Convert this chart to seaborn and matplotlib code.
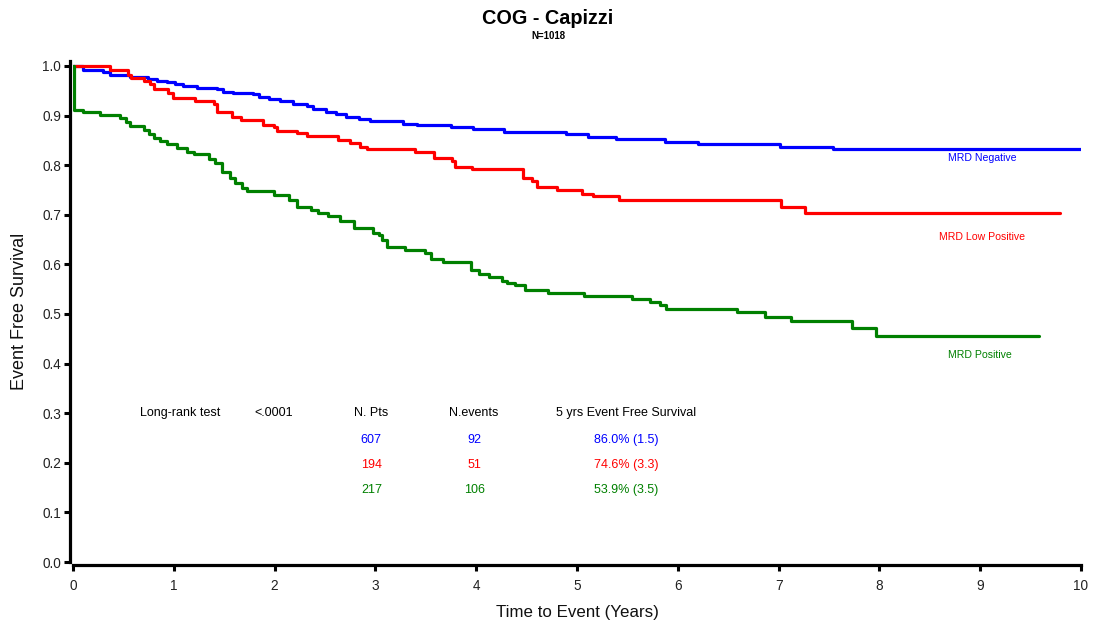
import numpy as np
import pandas as pd
import matplotlib
matplotlib.use("Agg")
import matplotlib.pyplot as plt
import seaborn as sns

# ---------------- data ----------------
groups = ["MRD Negative", "MRD Low Positive", "MRD Positive"]
colors = ["#0000ff", "#ff0000", "#008000"]

neg_time = [0.00, 0.10, 0.30, 0.37, 0.57, 0.74, 0.83, 0.93, 1.01, 1.09, 1.23, 1.43,
            1.49, 1.59, 1.79, 1.85, 1.94, 2.05, 2.18, 2.32, 2.38, 2.51, 2.61, 2.71,
            2.84, 2.95, 3.27, 3.41, 3.75, 3.97, 4.28, 4.89, 5.11, 5.39, 5.87, 6.20,
            7.01, 7.54, 10.00]
neg_surv = [1.000, 0.991, 0.987, 0.981, 0.977, 0.974, 0.970, 0.967, 0.963, 0.959, 0.956, 0.953,
            0.948, 0.945, 0.943, 0.938, 0.934, 0.929, 0.924, 0.919, 0.913, 0.908, 0.903, 0.898,
            0.893, 0.890, 0.884, 0.880, 0.876, 0.872, 0.867, 0.862, 0.857, 0.852, 0.847, 0.842,
            0.837, 0.832, 0.832]

low_time = [0.00, 0.37, 0.55, 0.58, 0.70, 0.76, 0.80, 0.94, 0.99, 1.21, 1.40, 1.43,
            1.58, 1.67, 1.88, 1.99, 2.02, 2.22, 2.32, 2.63, 2.75, 2.85, 2.92, 3.39,
            3.58, 3.76, 3.79, 3.96, 4.46, 4.55, 4.60, 4.80, 5.05, 5.16, 5.42, 7.02,
            7.26, 9.79]
low_surv = [1.000, 0.992, 0.982, 0.975, 0.970, 0.963, 0.953, 0.945, 0.935, 0.929, 0.923, 0.907,
            0.897, 0.891, 0.881, 0.876, 0.869, 0.864, 0.859, 0.851, 0.844, 0.837, 0.832, 0.827,
            0.814, 0.809, 0.797, 0.792, 0.774, 0.769, 0.755, 0.749, 0.742, 0.737, 0.730, 0.716,
            0.703, 0.703]

pos_time = [0.00, 0.005, 0.10, 0.27, 0.47, 0.53, 0.57, 0.70, 0.75, 0.80, 0.86, 0.93,
            1.03, 1.13, 1.20, 1.35, 1.41, 1.48, 1.56, 1.61, 1.68, 1.73, 1.99, 2.14,
            2.22, 2.36, 2.43, 2.53, 2.65, 2.79, 2.98, 3.04, 3.07, 3.12, 3.29, 3.49,
            3.55, 3.67, 3.95, 4.03, 4.13, 4.26, 4.31, 4.38, 4.48, 4.71, 5.07, 5.55,
            5.72, 5.82, 5.88, 6.59, 6.87, 7.12, 7.73, 7.97, 9.58]
pos_surv = [1.000, 0.911, 0.908, 0.901, 0.896, 0.888, 0.879, 0.871, 0.863, 0.854, 0.849, 0.842,
            0.834, 0.827, 0.822, 0.813, 0.804, 0.787, 0.774, 0.764, 0.753, 0.747, 0.740, 0.730,
            0.716, 0.710, 0.704, 0.698, 0.688, 0.674, 0.664, 0.659, 0.649, 0.636, 0.629, 0.622,
            0.610, 0.605, 0.589, 0.581, 0.574, 0.567, 0.563, 0.558, 0.548, 0.542, 0.536, 0.530,
            0.524, 0.518, 0.511, 0.503, 0.493, 0.486, 0.471, 0.456, 0.456]

n_pts = ["607", "194", "217"]
n_events = ["92", "51", "106"]
efs5 = ["86.0% (1.5)", "74.6% (3.3)", "53.9% (3.5)"]
table_header = ["Long-rank test", "<.0001", "N. Pts", "N.events", "5 yrs Event Free Survival"]

x_ticks = list(range(0, 11))
y_ticks = [0.0, 0.1, 0.2, 0.3, 0.4, 0.5, 0.6, 0.7, 0.8, 0.9, 1.0]

# ---------------- build long frame ----------------
df = pd.concat([
    pd.DataFrame({"time": neg_time, "surv": neg_surv, "group": groups[0]}),
    pd.DataFrame({"time": low_time, "surv": low_surv, "group": groups[1]}),
    pd.DataFrame({"time": pos_time, "surv": pos_surv, "group": groups[2]}),
], ignore_index=True)

# ---------------- style ----------------
sns.set_theme(style="ticks")
plt.rcParams["font.family"] = ["Liberation Sans", "DejaVu Sans"]

fig = plt.figure(figsize=(10.94, 6.30), dpi=100)
ax = fig.add_axes([73 / 1094, 68 / 630, 1008 / 1094, 501 / 630])

sns.lineplot(data=df, x="time", y="surv", hue="group", hue_order=groups,
             palette=dict(zip(groups, colors)), drawstyle="steps-post",
             estimator=None, errorbar=None, linewidth=2.3, legend=False, ax=ax)

ax.set_xlim(0, 10)
ax.set_ylim(0, 1.01)
ax.set_xticks(x_ticks)
ax.set_xticklabels([str(v) for v in x_ticks])
ax.set_yticks(y_ticks)
ax.set_yticklabels([f"{v:.1f}" for v in y_ticks])

sns.despine(ax=ax, offset=2.5)
for s in ["left", "bottom"]:
    ax.spines[s].set_linewidth(2.3)
    ax.spines[s].set_color("black")
ax.tick_params(axis="both", direction="out", length=4, width=2.2, color="black",
               labelsize=9.8, labelcolor="#222222")
ax.tick_params(axis="y", pad=2)
ax.tick_params(axis="x", pad=5.5)

ax.set_xlabel("Time to Event (Years)", fontsize=12.2, color="#111111")
ax.set_ylabel("Event Free Survival", fontsize=13, color="#111111")
ax.xaxis.set_label_coords(0.5, -0.086)
ax.yaxis.set_label_coords(-0.045, 0.5)

# title
fig.text(548 / 1094, 1 - 18 / 630, "COG - Capizzi", ha="center", va="center",
         fontsize=14.3, fontweight="bold", color="black")
fig.text(548 / 1094, 1 - 36 / 630, "N=1018", ha="center", va="center",
         fontsize=7, fontweight="bold", color="black")

# curve labels
label_pos = [(9.02, 0.815), (9.02, 0.655), (9.00, 0.417)]
for g, c, (lx, ly) in zip(groups, colors, label_pos):
    ax.text(lx, ly, g, color=c, fontsize=7.6, ha="center", va="center")

# statistics table
col_x = [1.06, 1.99, 2.96, 3.98, 5.49]
for cx, h in zip(col_x, table_header):
    ax.text(cx, 0.300, h, ha="center", va="center", fontsize=9, color="black")
row_y = [0.246, 0.196, 0.145]
for i in range(3):
    ax.text(col_x[2], row_y[i], n_pts[i], ha="center", va="center", fontsize=9, color=colors[i])
    ax.text(col_x[3], row_y[i], n_events[i], ha="center", va="center", fontsize=9, color=colors[i])
    ax.text(col_x[4], row_y[i], efs5[i], ha="center", va="center", fontsize=9, color=colors[i])

fig.savefig("out.png", dpi=100, facecolor="white")
